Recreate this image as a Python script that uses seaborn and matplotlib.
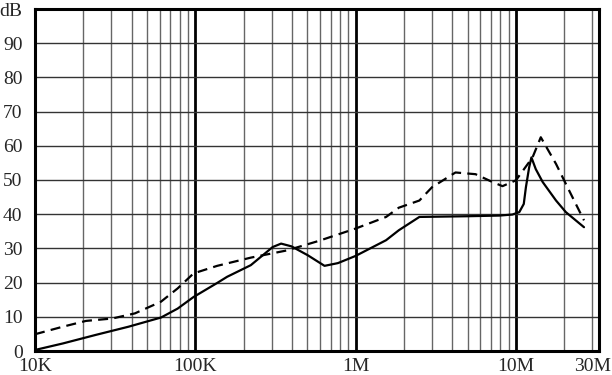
import matplotlib
matplotlib.use("Agg")
import matplotlib.pyplot as plt
import seaborn as sns
import pandas as pd

# solid curve (Hz, dB)
solid_freq = [1e4, 1.49e4, 2.39e4, 3.83e4, 6.12e4, 7.76e4, 9.76e4, 1.37e5, 1.58e5,
              2.22e5, 3.04e5, 3.43e5, 3.98e5, 5.03e5, 6.4e5, 7.76e5, 1e6, 1.55e6,
              1.86e6, 2.5e6, 4.87e6, 7.9e6, 9.5e6, 1.05e7, 1.12e7, 1.155e7, 1.21e7,
              1.25e7, 1.33e7, 1.47e7, 1.78e7, 2.05e7, 2.66e7]
solid_db = [0.3, 2.2, 4.7, 7.1, 9.8, 12.4, 15.8, 19.9, 21.7,
            25.1, 30.4, 31.4, 30.6, 28.0, 24.9, 25.7, 27.8, 32.4,
            35.3, 39.2, 39.4, 39.6, 39.9, 40.6, 43.0, 47.9, 53.7,
            56.6, 53.2, 49.4, 44.0, 40.6, 36.2]

# dashed curve (Hz, dB)
dash_freq = [1e4, 1.49e4, 2.08e4, 3.03e4, 4.2e4, 6.1e4, 7.76e4, 9.76e4, 1.37e5,
             2.22e5, 3.72e5, 5.9e5, 1e6, 1.55e6, 1.86e6, 2.5e6, 3e6, 4.2e6,
             5.6e6, 7.15e6, 8.25e6, 1e7, 1.27e7, 1.43e7, 1.78e7, 2.15e7, 2.66e7]
dash_db = [4.9, 7.1, 8.8, 9.5, 11.0, 14.4, 18.3, 22.7, 24.9,
           27.3, 29.4, 32.2, 35.8, 39.2, 41.9, 44.0, 47.9, 52.2,
           51.7, 49.4, 48.2, 49.9, 56.6, 62.5, 54.7, 46.9, 38.2]

x_ticks = [1e4, 1e5, 1e6, 1e7, 3e7]
x_labels = ["10K", "100K", "1M", "10M", "30M"]
y_ticks = [0, 10, 20, 30, 40, 50, 60, 70, 80, 90, 100]
y_labels = ["0", "10", "20", "30", "40", "50", "60", "70", "80", "90", "dB"]

sns.set_style("white")
plt.rcParams['font.family'] = ['Liberation Serif', 'DejaVu Serif']

fig = plt.figure(figsize=(6.12, 3.75), dpi=100)
ax = fig.add_axes([35 / 612, 24 / 375, 564 / 612, 342 / 375])

df_solid = pd.DataFrame({"freq": solid_freq, "db": solid_db})
df_dash = pd.DataFrame({"freq": dash_freq, "db": dash_db})

ax.set_xscale("log")
ax.set_xlim(1e4, 3.3e7)
ax.set_ylim(0, 100)

# grid: minor verticals, decade verticals, horizontals
minor = [m * d for d in [1e4, 1e5, 1e6] for m in range(2, 10)] + [2e7, 3e7]
for f in minor:
    ax.axvline(f, color="#666666", lw=1.0, zorder=1)
for f in [1e5, 1e6, 1e7]:
    ax.axvline(f, color="black", lw=2.0, zorder=1)
for v in range(10, 100, 10):
    ax.axhline(v, color="#333333", lw=1.0, zorder=1)

sns.lineplot(data=df_solid, x="freq", y="db", ax=ax, color="black",
             lw=1.6, zorder=3, sort=False)
sns.lineplot(data=df_dash, x="freq", y="db", ax=ax, color="black",
             lw=1.6, zorder=3, sort=False, linestyle=(0, (4.5, 2.8)))

ax.set_xticks(x_ticks)
ax.set_xticklabels(x_labels, fontsize=14)
ax.xaxis.set_minor_locator(matplotlib.ticker.NullLocator())
ax.set_yticks(y_ticks)
ax.set_yticklabels(y_labels, fontsize=14)
ax.tick_params(axis="x", length=0, pad=5)
ax.tick_params(axis="y", length=0, pad=9)
ax.set_xlabel("")
ax.set_ylabel("")

for s in ax.spines.values():
    s.set_color("black")
    s.set_linewidth(2.2)
    s.set_visible(True)

fig.savefig("out.png", dpi=100)
